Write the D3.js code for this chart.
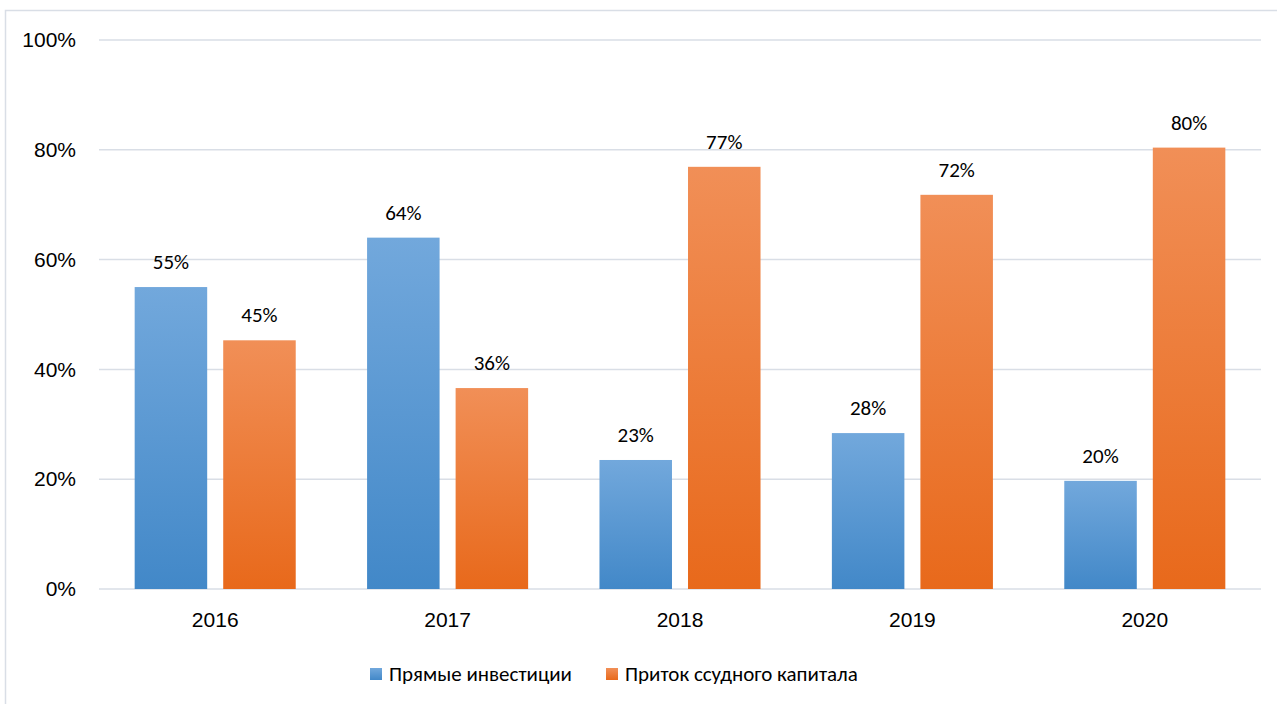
<!DOCTYPE html>
<html>
<head>
<meta charset="utf-8">
<script src="https://cdn.jsdelivr.net/npm/d3@7"></script>
<style>
  html, body { margin: 0; padding: 0; background: #fff; }
  svg { display: block; font-family: Carlito, Calibri, Lato, "Open Sans", sans-serif; }
</style>
</head>
<body>
<svg id="chart" width="1277" height="704"></svg>
<script>
const categories = ["2016", "2017", "2018", "2019", "2020"];
const seriesNames = ["Прямые инвестиции", "Приток ссудного капитала"];
const directInvestment = [55, 64, 23.5, 28.4, 19.7];
const loanCapital = [45.3, 36.6, 76.9, 71.8, 80.4];
const yTicks = [0, 20, 40, 60, 80, 100];
const valueLabels = [
  ["55%", "64%", "23%", "28%", "20%"],
  ["45%", "36%", "77%", "72%", "80%"]
];

const seriesValues = [directInvestment, loanCapital];
const svg = d3.select("#chart");
const FS = 21;
const plot = { left: 99, right: 1261, top: 40, bottom: 589 };

// chart border (top + left visible)
svg.append("rect").attr("x", 5.5).attr("y", 10.5).attr("width", 1290).attr("height", 720)
  .attr("fill", "none").attr("stroke", "#d9dee6").attr("stroke-width", 1.5);

const defs = svg.append("defs");
const grads = [
  { id: "gBlue", top: "#72a8dc", bottom: "#4288c8" },
  { id: "gOrange", top: "#f18f57", bottom: "#e8691b" }
];
grads.forEach(g => {
  const lg = defs.append("linearGradient").attr("id", g.id)
    .attr("x1", 0).attr("y1", 0).attr("x2", 0).attr("y2", 1);
  lg.append("stop").attr("offset", "0%").attr("stop-color", g.top);
  lg.append("stop").attr("offset", "100%").attr("stop-color", g.bottom);
});

const y = d3.scaleLinear().domain([0, 100]).range([plot.bottom, plot.top]);
const x0 = d3.scaleBand().domain(categories).range([plot.left, plot.right])
  .paddingInner(0.307).paddingOuter(0.1535);
const x1 = d3.scaleBand().domain([0, 1]).range([0, x0.bandwidth()]).paddingInner(0.181);

// gridlines
svg.append("g").selectAll("line").data(yTicks).join("line")
  .attr("x1", plot.left).attr("x2", plot.right)
  .attr("y1", d => y(d)).attr("y2", d => y(d))
  .attr("stroke", "#d9dee6").attr("stroke-width", 1.5);

// y axis labels
const yAxis = d3.axisLeft(y).tickValues(yTicks).tickFormat(d => d + "%").tickSize(0).tickPadding(0);
const yg = svg.append("g").attr("transform", `translate(76,0)`).call(yAxis);
yg.select(".domain").remove();
yg.selectAll("text").attr("font-size", FS).attr("fill", "#000").attr("font-family", null);

// bars
const groups = svg.append("g").selectAll("g").data(categories).join("g")
  .attr("transform", d => `translate(${x0(d)},0)`);
groups.selectAll("rect").data((d, i) => seriesValues.map((s, k) => ({ k, v: s[i], i })))
  .join("rect")
  .attr("x", d => x1(d.k))
  .attr("width", x1.bandwidth())
  .attr("y", d => y(d.v))
  .attr("height", d => y(0) - y(d.v))
  .attr("fill", d => d.k === 0 ? "url(#gBlue)" : "url(#gOrange)");

groups.selectAll("text").data((d, i) => seriesValues.map((s, k) => ({ k, v: s[i], i })))
  .join("text")
  .attr("x", d => x1(d.k) + x1.bandwidth() / 2)
  .attr("y", d => y(d.v) - 18)
  .attr("text-anchor", "middle")
  .attr("font-size", FS)
  .attr("fill", "#000")
  .text(d => valueLabels[d.k][d.i]);

// x axis labels
const xAxis = d3.axisBottom(x0).tickSize(0).tickPadding(0);
const xg = svg.append("g").attr("transform", `translate(0,${plot.bottom + 38})`).call(xAxis);
xg.select(".domain").remove();
xg.selectAll("text").attr("font-size", FS).attr("fill", "#000").attr("font-family", null).attr("dy", 0);

// legend
const legendItems = [
  { name: seriesNames[0], fill: "url(#gBlue)", x: 370 },
  { name: seriesNames[1], fill: "url(#gOrange)", x: 606 }
];
const lg = svg.append("g");
legendItems.forEach(it => {
  lg.append("rect").attr("x", it.x).attr("y", 668).attr("width", 12).attr("height", 12).attr("fill", it.fill);
  lg.append("text").attr("x", it.x + 19).attr("y", 681).attr("font-size", FS).attr("fill", "#000").text(it.name);
});
</script>
</body>
</html>
